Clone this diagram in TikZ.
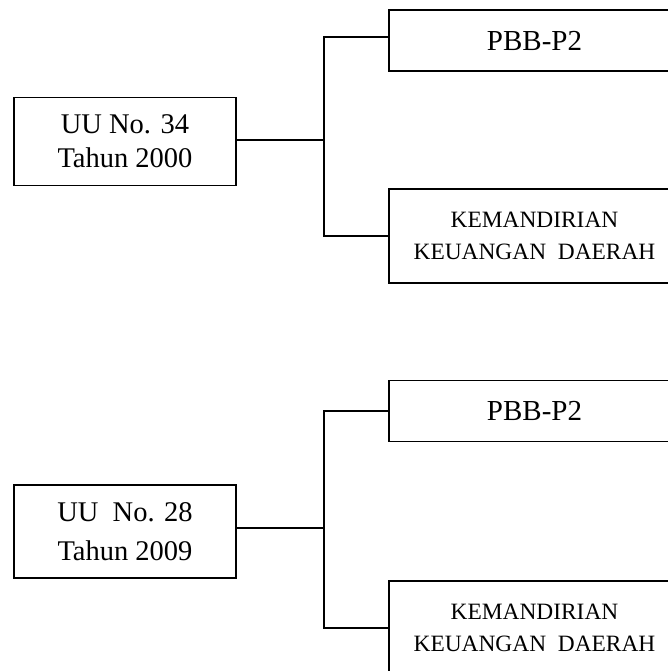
\documentclass[tikz,border=0pt]{standalone}
\usepackage{fontspec}
\setmainfont{Liberation Serif}
\begin{document}
\begin{tikzpicture}[x=1pt,y=-1pt,
  box/.style={draw, line width=1.6pt, inner sep=0pt, align=center},
  lawbox/.style={box, minimum width=222pt},
  pbbbox/.style={box, minimum width=291pt, minimum height=61pt, font=\fontsize{29}{34}\selectfont},
  kembox/.style={box, minimum width=291pt, minimum height=94pt, font=\fontsize{23.4}{32}\selectfont},
  conn/.style={line width=1.6pt}]
\clip (0,0) rectangle (668,671);
\fill[white] (0,0) rectangle (668,671);
% top group
\node[lawbox, minimum height=88pt, font=\fontsize{28.5}{34}\selectfont] (u1) at (125,141.5) {UU No. 34\\Tahun 2000};
\node[pbbbox] (p1) at (534.5,40.5) {PBB-P2};
\node[kembox] (k1) at (534.5,236) {KEMANDIRIAN\\KEUANGAN~~DAERAH};
\coordinate (j1) at (324,140);
\draw[conn] (u1.east |- j1) -- (j1);
\draw[conn] ([yshift=3.5pt]p1.west) -| (j1) |- (k1.west);
% bottom group
\node[lawbox, minimum height=93pt, font=\fontsize{28.5}{39}\selectfont] (u2) at (125,531.5) {UU~~No. 28\\Tahun 2009};
\node[pbbbox] (p2) at (534.5,411) {PBB-P2};
\node[kembox] (k2) at (534.5,628) {KEMANDIRIAN\\KEUANGAN~~DAERAH};
\coordinate (j2) at (324,528);
\draw[conn] (u2.east |- j2) -- (j2);
\draw[conn] (p2.west) -| (j2) |- (k2.west);
\end{tikzpicture}
\end{document}
